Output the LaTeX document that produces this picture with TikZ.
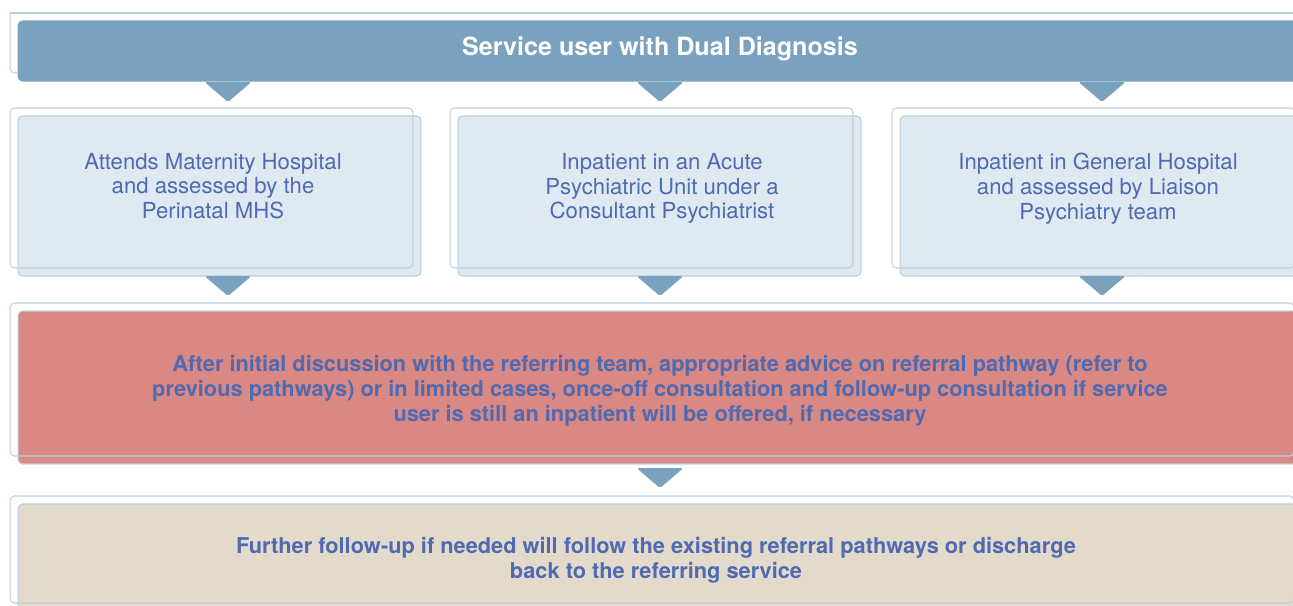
\documentclass[tikz,border=0pt]{standalone}
\usepackage{fontspec}
\setmainfont{TeX Gyre Heros}
\usepackage{xcolor}
\usepackage{tikz}

\definecolor{headblue}{HTML}{7AA1BE}
\definecolor{paleblue}{HTML}{DFE9F2}
\definecolor{rimblue}{HTML}{BBCFDD}
\definecolor{advicered}{HTML}{D98884}
\definecolor{sand}{HTML}{E3DACC}
\definecolor{inkblue}{HTML}{4F6AB0}

\begin{document}
\begin{tikzpicture}[x=0.02cm, y=-0.02cm,
		fillbox/.style={rounded corners=2.5pt, draw=rimblue, line width=0.6pt, inner sep=0pt, outer sep=0pt},
		backframe/.style={rimblue, line width=0.6pt, rounded corners=2.5pt},
		midtext/.style={text=inkblue, align=center, font=\fontsize{12.6}{14.1}\selectfont},
		boldtext/.style={text=inkblue, align=center, font=\bfseries\fontsize{12.4}{14.2}\selectfont},
		chev/.pic={\fill[headblue, rounded corners=1pt] (-23.5,0) -- (23.5,0) -- (0,20) -- cycle;}]
				\useasboundingbox (0,0) rectangle (1293,605);
				\clip (0,0) rectangle (1293,605);
				
				%Header
				\node[fillbox, fill=headblue, draw=headblue, minimum width=25.68cm, minimum height=1.2cm] (head) at (660,51) {};
				\draw[backframe] ([shift={(-8,-8)}]head.north west) -- ([shift={(-8,-8)}]head.south west) -- ([shift={(0,-8)}]head.south west);
				\draw[backframe] ([shift={(-8,-8)}]head.north west) -- ([shift={(-8,-8)}]head.north east);
				\node[text=white, font=\bfseries\fontsize{14.3}{16}\selectfont] (title) at (660,49) {Service user with Dual Diagnosis};
				\pic at (228,82) {chev};
				\pic at (660,82) {chev};
				\pic at (1102,82) {chev};
				
				%Settings
				\node[fillbox, fill=paleblue, minimum width=8.06cm, minimum height=3.2cm] (hosp) at (219.5,196) {};
				\node[fillbox, fill=paleblue, minimum width=8.06cm, minimum height=3.2cm] (acute) at (659.5,196) {};
				\node[fillbox, fill=paleblue, minimum width=8.06cm, minimum height=3.2cm] (general) at (1101.5,196) {};
				\draw[backframe] ([shift={(-8,-8)}]hosp.north west) rectangle ([shift={(-8,-8)}]hosp.south east);
				\draw[backframe] ([shift={(-8,-8)}]acute.north west) rectangle ([shift={(-8,-8)}]acute.south east);
				\draw[backframe] ([shift={(-8,-8)}]general.north west) rectangle ([shift={(-8,-8)}]general.south east);
				\node[midtext] (hosptxt) at (213,186) {Attends Maternity Hospital\\and assessed by the\\Perinatal MHS};
				\node[midtext] (acutetxt) at (662,188.5) {Inpatient in an Acute\\Psychiatric Unit under a\\Consultant Psychiatrist};
				\node[midtext] (generaltxt) at (1098,188.5) {Inpatient in General Hospital\\and assessed by Liaison\\Psychiatry team};
				\pic at (228,276) {chev};
				\pic at (660,276) {chev};
				\pic at (1102,276) {chev};
				
				%Advice
				\node[fillbox, fill=advicered, minimum width=25.68cm, minimum height=3.06cm] (advice) at (660,387.5) {};
				\draw[backframe] ([shift={(-8,-8)}]advice.north west) rectangle ([shift={(-8,-8)}]advice.south east);
				\node[boldtext] (advicetxt) at (660,391) {After initial discussion with the referring team, appropriate advice on referral pathway (refer to\\previous pathways) or in limited cases, once-off consultation and follow-up consultation if service\\user is still an inpatient will be offered, if necessary};
				\pic at (660,468) {chev};
				
				%Follow-up
				\node[fillbox, fill=sand, minimum width=25.68cm, minimum height=2.14cm] (follow) at (660,557.5) {};
				\draw[backframe] ([shift={(-8,-8)}]follow.north west) rectangle ([shift={(-8,-8)}]follow.south east);
				\node[boldtext] (followtxt) at (656,560) {Further follow-up if needed will follow the existing referral pathways or discharge\\back to the referring service};
			\end{tikzpicture}
\end{document}
